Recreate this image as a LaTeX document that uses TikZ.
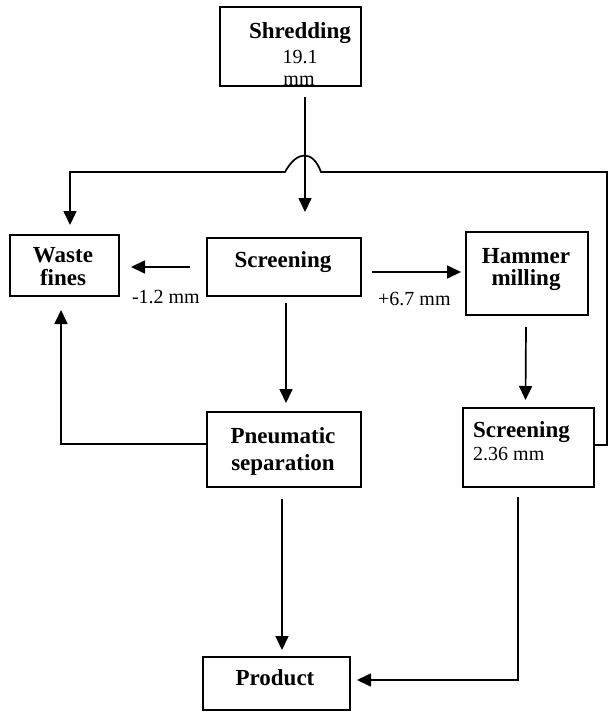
\documentclass[tikz,border=0pt]{standalone}
\usepackage{fontspec}
\setmainfont{Liberation Serif}
\usetikzlibrary{arrows.meta,calc}
\tikzset{
  box/.style={draw, line width=1.7pt, inner sep=0pt, outer sep=0pt},
  bl/.style={font=\fontsize{23}{23}\selectfont\bfseries, inner sep=0pt, anchor=base},
  rl/.style={font=\fontsize{20}{20}\selectfont, inner sep=0pt, anchor=base},
  arr/.style={line width=1.7pt, -{Triangle[length=14pt,width=13pt]}},
}
\begin{document}
\begin{tikzpicture}[x=1pt,y=-1pt]
\useasboundingbox (0,0) rectangle (611,712);
% boxes
\node[box, minimum width=141pt, minimum height=79pt] (shred) at (290.5,46.5) {};
\node[box, minimum width=109pt, minimum height=61pt] (waste) at (64.5,265.5) {};
\node[box, minimum width=154pt, minimum height=58pt] (screen1) at (284,267) {};
\node[box, minimum width=122pt, minimum height=83pt] (hammer) at (527,273.5) {};
\node[box, minimum width=154pt, minimum height=75pt] (pneu) at (284,449.5) {};
\node[box, minimum width=131pt, minimum height=79pt] (screen2) at (528.5,447.5) {};
\node[box, minimum width=147pt, minimum height=53pt] (product) at (276.5,683.5) {};
% texts
\node[bl] (t1) at (300,38) {Shredding};
\node[rl] (t2) at (300,63) {19.1};
\node[rl] (t3) at (299,85) {mm};
\node[bl] (t4) at (63,262) {Waste};
\node[bl] (t5) at (63,285) {fines};
\node[bl] (t6) at (283,267) {Screening};
\node[bl] (t7) at (526,263) {Hammer};
\node[bl] (t8) at (526,285) {milling};
\node[bl] (t9) at (283,443) {Pneumatic};
\node[bl] (t10) at (283,470) {separation};
\node[bl, anchor=base west] (t11) at (473,437) {Screening};
\node[rl, anchor=base west] (t12) at (473,460) {2.36 mm};
\node[bl] (t13) at (275,685) {Product};
\node[rl, anchor=base east] (t14) at (200,303) {-1.2 mm};
\node[rl, anchor=base west] (t15) at (378,305) {+6.7 mm};
% connectors
\coordinate (fbR) at (607,172);
\coordinate (fbL) at (70,172);
\draw[arr] ($(shred.south)+(14.5,11)$) -- ($(screen1.north)+(21,-26)$);
\draw[arr] (screen2.east |- 0,445) -- (607,445) -- (fbR) -- (321,172)
  .. controls (313,150) and (297,150) .. (285,172) -- (fbL) -- ($(waste.north)+(5.5,-10)$);
\draw[arr] ($(screen1.west)+(-17,0)$) -- ($(waste.east |- screen1.west)+(12,0)$);
\draw[arr] ($(screen1.east)+(11,5)$) -- ($(hammer.west |- screen1.east)+(-5,5)$);
\draw[arr] ($(screen1.south)+(2,7)$) -- ($(pneu.north)+(2,-9)$);
\draw[arr] ($(hammer.south)+(-1,12)$) -- ($(screen2.north)+(-3,-8)$);
\draw[arr] (pneu.west |- 0,444) -- (61,444) -- ($(waste.south)+(-3.5,14)$);
\draw[arr] ($(pneu.south)+(-2,12)$) -- ($(product.north)+(5.5,-7)$);
\draw[arr] ($(screen2.south)+(-10.5,10)$) -- (518,680) -- ($(product.east)+(7,-3.5)$);
\end{tikzpicture}
\end{document}
